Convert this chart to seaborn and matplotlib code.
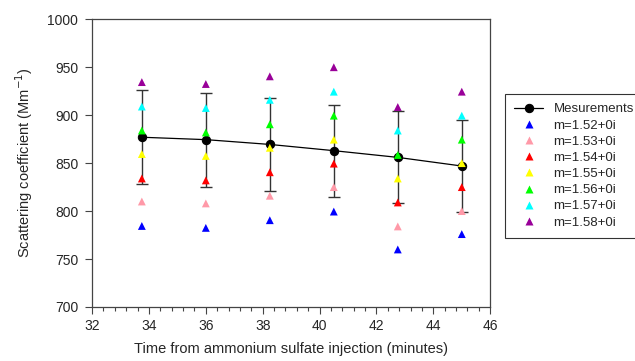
import numpy as np
import pandas as pd
import matplotlib
matplotlib.use("Agg")
import matplotlib.pyplot as plt
from matplotlib.ticker import MultipleLocator
import seaborn as sns

# Data
time_min = [33.75, 36.0, 38.25, 40.5, 42.75, 45.0]
measured = [877, 874.5, 869.5, 863, 856, 847]
measured_err = [49, 49, 48.5, 48, 48, 47.5]

refr_labels = ["m=1.52+0i", "m=1.53+0i", "m=1.54+0i", "m=1.55+0i",
               "m=1.56+0i", "m=1.57+0i", "m=1.58+0i"]
m152 = [784.5, 782.5, 790.5, 799.5, 760, 776]
m153 = [810, 808, 816, 825, 784, 800]
m154 = [834, 832, 840.5, 849.5, 809, 825]
m155 = [859.5, 857.5, 866, 874.5, 834, 850]
m156 = [884, 882, 890.5, 899.5, 858.5, 874.5]
m157 = [909, 907.5, 916, 924.5, 884, 899.5]
m158 = [934.5, 932.5, 940.5, 950, 908.5, 924.5]
refr_colors = ["#0000FF", "#FF99A8", "#FF0000", "#FFFF00",
               "#00FF00", "#00FFFF", "#990099"]

sns.set_theme(style="ticks")
plt.rcParams['font.family'] = ['Liberation Sans', 'DejaVu Sans']

# long table for the model points
model = pd.DataFrame({
    "time": np.tile(time_min, len(refr_labels)),
    "scat": np.concatenate([m152, m153, m154, m155, m156, m157, m158]),
    "m": np.repeat(refr_labels, len(time_min)),
})
meas = pd.DataFrame({"time": time_min, "scat": measured, "err": measured_err})

fig = plt.figure(figsize=(6.35, 3.61), dpi=100)
ax = fig.add_axes([0.145, 0.1496, 0.627, 0.797])

ax.errorbar(meas["time"], meas["scat"], yerr=meas["err"], fmt="none",
            ecolor="#333333", elinewidth=1, capsize=4, capthick=1, zorder=2)
sns.lineplot(data=meas, x="time", y="scat", ax=ax, color="black", lw=0.9,
             marker="o", markersize=6, markeredgecolor="black",
             label="Mesurements", zorder=3)
sns.scatterplot(data=model, x="time", y="scat", hue="m", palette=refr_colors,
                marker="^", s=32, edgecolor="none", ax=ax, zorder=4)

ax.set_xlim(32, 46)
ax.set_ylim(700, 1000)
ax.xaxis.set_major_locator(MultipleLocator(2))
ax.xaxis.set_minor_locator(MultipleLocator(0.4))
ax.yaxis.set_major_locator(MultipleLocator(50))
ax.tick_params(axis="both", which="major", direction="out", length=5,
               width=0.8, labelsize=10, color="#444444", pad=4)
ax.tick_params(axis="y", which="major", pad=5)
ax.tick_params(axis="x", which="minor", direction="out", length=3,
               width=0.8, color="#444444")
for sp in ax.spines.values():
    sp.set_visible(True)
    sp.set_color("#444444")
    sp.set_linewidth(0.9)

ax.set_xlabel("Time from ammonium sulfate injection (minutes)", fontsize=10.5,
              labelpad=6)
ax.set_ylabel("Scattering coefficient (Mm$^{-1}$)", fontsize=10.5, labelpad=9)

handles, labels = ax.get_legend_handles_labels()
ax.get_legend().remove()
leg = fig.legend(handles, labels, loc="upper left",
                 bbox_to_anchor=(0.795, 0.74), fontsize=9.5, frameon=True,
                 fancybox=False, edgecolor="black", borderpad=0.7,
                 labelspacing=0.3, handlelength=2.2, handletextpad=0.8,
                 borderaxespad=0)
leg.get_frame().set_linewidth(0.8)

fig.savefig("out.png", dpi=100)
